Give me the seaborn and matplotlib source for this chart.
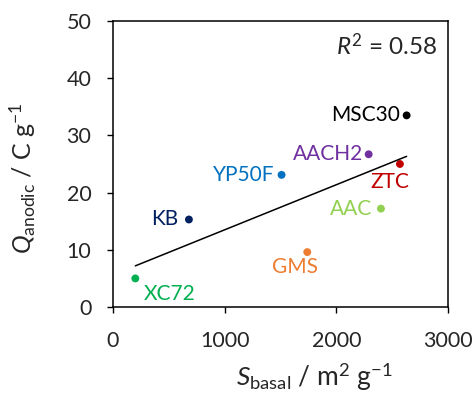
import matplotlib
matplotlib.use("Agg")
import matplotlib.pyplot as plt
import seaborn as sns
import numpy as np
import pandas as pd

# datos
muestras = ["MSC30", "AACH2", "ZTC", "YP50F", "KB", "AAC", "GMS", "XC72"]
s_basal = [2630, 2290, 2570, 1510, 680, 2400, 1740, 200]
q_anodic = [33.5, 26.7, 25.0, 23.1, 15.3, 17.2, 9.6, 5.0]
colores = ["#000000", "#7030A0", "#C00000", "#0070C0", "#002060", "#92D050", "#ED7D31", "#00B050"]
r2_texto = "0.58"

# posición de cada etiqueta (offset en puntos, alineación)
etiquetas_pos = {
    "MSC30": (-5, 0, "right", "center"),
    "AACH2": (-4, 0, "right", "center"),
    "ZTC": (-7, -13, "center", "center"),
    "YP50F": (-5, 0, "right", "center"),
    "KB": (-8, 0, "right", "center"),
    "AAC": (-6, 0, "right", "center"),
    "GMS": (-9, -11, "center", "center"),
    "XC72": (6, -11, "left", "center"),
}

df = pd.DataFrame({"muestra": muestras, "S": s_basal, "Q": q_anodic})

sns.set_theme(style="white")
plt.rcParams["font.family"] = ["Lato", "DejaVu Sans"]
plt.rcParams["mathtext.fontset"] = "custom"
plt.rcParams["mathtext.rm"] = "Lato"
plt.rcParams["mathtext.it"] = "Lato:italic"

fig = plt.figure(figsize=(4.72, 3.96), dpi=100)
ax = fig.add_axes([0.2394, 0.2247, 0.7096, 0.7223])

# recta de ajuste
sns.regplot(data=df, x="S", y="Q", ci=None, scatter=False, ax=ax,
            line_kws={"color": "black", "lw": 1.1})

sns.scatterplot(data=df, x="S", y="Q", hue="muestra", palette=colores,
                s=32, edgecolor="none", legend=False, ax=ax)

for m, x, y, c in zip(muestras, s_basal, q_anodic, colores):
    dx, dy, ha, va = etiquetas_pos[m]
    ax.annotate(m, (x, y), xytext=(dx, dy), textcoords="offset points",
                ha=ha, va=va, color=c, fontsize=15)

ax.text(0.97, 0.915, r"$\mathit{R}^2$ = " + r2_texto, transform=ax.transAxes,
        ha="right", va="center", fontsize=17.5)

ax.set_xlim(0, 3000)
ax.set_ylim(0, 50)
ax.set_xticks([0, 1000, 2000, 3000])
ax.set_yticks([0, 10, 20, 30, 40, 50])
ax.tick_params(direction="out", length=4.5, width=1, labelsize=15.5, color="black",
               bottom=True, left=True)
ax.tick_params(axis="y", pad=11)
ax.tick_params(axis="x", pad=13)
for sp in ax.spines.values():
    sp.set_color("black")
    sp.set_linewidth(1.1)

ax.set_xlabel(r"$\mathit{S}_{\mathrm{basal}}$ / m$^2$ g$^{-1}$", fontsize=19)
ax.set_ylabel(r"$\mathit{Q}_{\mathrm{anodic}}$ / C g$^{-1}$", fontsize=18)
ax.xaxis.set_label_coords(0.6, -0.19)
ax.yaxis.set_label_coords(-0.225, 0.45)

plt.savefig("out.png", dpi=100)
plt.close()
